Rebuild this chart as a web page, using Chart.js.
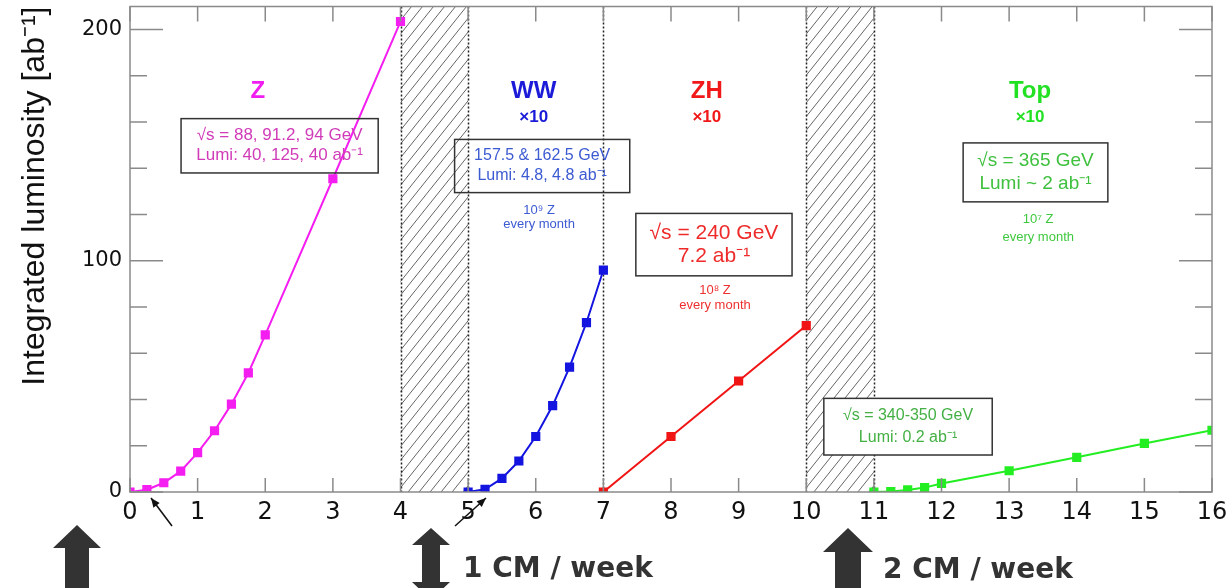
<!DOCTYPE html>
<html>
<head>
<meta charset="utf-8">
<script src="https://cdn.jsdelivr.net/npm/chart.js@4.4.1/dist/chart.umd.min.js"></script>
<style>
  html, body { margin: 0; padding: 0; background: #fff; }
  canvas { display: block; }
</style>
</head>
<body>
<canvas id="lumiChart" width="1229" height="588"></canvas>
<script>
// ── data (x = years, y = integrated luminosity in ab^-1)
const zYears   = [0, 0.25, 0.5, 0.75, 1, 1.25, 1.5, 1.75, 2, 3, 4];
const zLumi    = [0, 1, 4, 9, 17, 26.5, 38, 51.5, 68, 135.5, 203.5];
const wwYears  = [5, 5.25, 5.5, 5.75, 6, 6.25, 6.5, 6.75, 7];
const wwLumi   = [0, 1.2, 5.9, 13.4, 24, 37.4, 54, 73.3, 96];
const zhYears  = [7, 8, 9, 10];
const zhLumi   = [0, 24, 48, 72];
const topYears = [11, 11.25, 11.5, 11.75, 12, 13, 14, 15, 16];
const topLumi  = [0, 0.2, 0.9, 1.9, 3.7, 9.2, 15, 21, 26.7];

const xTicks = [0, 1, 2, 3, 4, 5, 6, 7, 8, 9, 10, 11, 12, 13, 14, 15, 16];
const yTicks = [0, 100, 200];
const yMinorStep = 20;
const shutdowns = [[4, 5], [10, 11]];       // hatched periods
const phaseEdges = [4, 5, 7, 10, 11];       // dotted separators

const toPts = (xs, ys) => xs.map((x, i) => ({ x: x, y: ys[i] }));

function series(label, xs, ys, color) {
  return {
    label: label,
    data: toPts(xs, ys),
    borderColor: color,
    backgroundColor: color,
    borderWidth: 2,
    pointStyle: 'rect',
    pointRadius: 6.5,
    pointBorderWidth: 0,
    tension: 0
  };
}

// text annotations, placed in data coordinates
const notes = [
  { x: 1.89, y: 173.5, lines: ['Z'], color: '#f01ef0', font: 'bold 24px "Liberation Sans"' },
  { x: 5.97, y: 173.5, lines: ['WW'], color: '#1a1ad8', font: 'bold 24px "Liberation Sans"' },
  { x: 5.97, y: 162, lines: ['\u00d710'], color: '#1a1ad8', font: 'bold 17px "Liberation Sans"' },
  { x: 8.53, y: 173.5, lines: ['ZH'], color: '#f01818', font: 'bold 24px "Liberation Sans"' },
  { x: 8.53, y: 162, lines: ['\u00d710'], color: '#f01818', font: 'bold 17px "Liberation Sans"' },
  { x: 13.31, y: 173.5, lines: ['Top'], color: '#22e022', font: 'bold 24px "Liberation Sans"' },
  { x: 13.31, y: 162, lines: ['\u00d710'], color: '#22e022', font: 'bold 17px "Liberation Sans"' },
  { x: 6.05, y: 122, lines: ['10\u2079 Z', 'every month'], color: '#3c5ad2', font: '13px "Liberation Sans"', gap: 14 },
  { x: 8.65, y: 87, lines: ['10\u2078 Z', 'every month'], color: '#ee3030', font: '13px "Liberation Sans"', gap: 15 },
  { x: 13.43, y: 118, lines: ['10\u2077 Z', 'every month'], color: '#3fc83f', font: '13px "Liberation Sans"', gap: 18 }
];

const boxes = [
  { x0: 0.755, x1: 3.67, y0: 161.5, y1: 138, lines: ['\u221as = 88, 91.2, 94 GeV', 'Lumi: 40, 125, 40 ab\u207b\u00b9'],
    color: '#d03cb8', font: '17px "Liberation Sans"', gap: 20 },
  { x0: 4.80, x1: 7.39, y0: 152.5, y1: 129.5, lines: ['157.5 & 162.5 GeV', 'Lumi: 4.8, 4.8 ab\u207b\u00b9'],
    color: '#3c5ad2', font: '16px "Liberation Sans"', gap: 20 },
  { x0: 7.48, x1: 9.79, y0: 120.5, y1: 93.5, lines: ['\u221as = 240 GeV', '7.2 ab\u207b\u00b9'],
    color: '#ee2a2a', font: '21px "Liberation Sans"', gap: 23 },
  { x0: 12.32, x1: 14.46, y0: 151, y1: 125.5, lines: ['\u221as = 365 GeV', 'Lumi ~ 2 ab\u207b\u00b9'],
    color: '#3fc03f', font: '19px "Liberation Sans"', gap: 23 },
  { x0: 10.26, x1: 12.75, y0: 40.5, y1: 16, lines: ['\u221as = 340-350 GeV', 'Lumi: 0.2 ab\u207b\u00b9'],
    color: '#44b044', font: '16px "Liberation Sans"', gap: 22, fill: '#fff' }
];

function arrowUp(ctx, cx, tipY, headHalf, headH, shaftHalf, endY, downTipY) {
  ctx.beginPath();
  ctx.moveTo(cx, tipY);
  ctx.lineTo(cx + headHalf, tipY + headH);
  ctx.lineTo(cx + shaftHalf, tipY + headH);
  if (downTipY) {
    ctx.lineTo(cx + shaftHalf, endY);
    ctx.lineTo(cx + headHalf, endY);
    ctx.lineTo(cx, downTipY);
    ctx.lineTo(cx - headHalf, endY);
  } else {
    ctx.lineTo(cx + shaftHalf, endY);
  }
  ctx.lineTo(cx - shaftHalf, endY);
  ctx.lineTo(cx - shaftHalf, tipY + headH);
  ctx.lineTo(cx - headHalf, tipY + headH);
  ctx.closePath();
  ctx.fill();
}

function pointer(ctx, x0, y0, x1, y1) {
  const a = Math.atan2(y1 - y0, x1 - x0);
  ctx.beginPath();
  ctx.moveTo(x0, y0);
  ctx.lineTo(x1, y1);
  ctx.stroke();
  ctx.beginPath();
  ctx.moveTo(x1, y1);
  ctx.lineTo(x1 - 10 * Math.cos(a - 0.4), y1 - 10 * Math.sin(a - 0.4));
  ctx.lineTo(x1 - 10 * Math.cos(a + 0.4), y1 - 10 * Math.sin(a + 0.4));
  ctx.closePath();
  ctx.fill();
}

const decor = {
  id: 'decor',
  beforeDatasetsDraw(chart) {
    const { ctx, chartArea: a, scales: { x } } = chart;
    ctx.save();
    // hatched shutdown periods
    shutdowns.forEach(([s, e]) => {
      const l = x.getPixelForValue(s), r = x.getPixelForValue(e);
      const h = a.bottom - a.top, run = h / 1.25;
      ctx.save();
      ctx.beginPath();
      ctx.rect(l, a.top, r - l, h);
      ctx.clip();
      ctx.strokeStyle = '#666';
      ctx.lineWidth = 1;
      for (let px = l - run; px < r; px += 11) {
        ctx.beginPath();
        ctx.moveTo(px, a.bottom);
        ctx.lineTo(px + run, a.top);
        ctx.stroke();
      }
      ctx.restore();
    });
    // dotted phase separators
    ctx.strokeStyle = '#222';
    ctx.lineWidth = 1.5;
    ctx.setLineDash([2, 2]);
    phaseEdges.forEach(v => {
      const px = Math.round(x.getPixelForValue(v)) + 0.5;
      ctx.beginPath();
      ctx.moveTo(px, a.top);
      ctx.lineTo(px, a.bottom);
      ctx.stroke();
    });
    ctx.restore();
  },
  afterDatasetsDraw(chart) {
    const { ctx, chartArea: a, scales: { x, y } } = chart;
    ctx.save();
    // frame and inward ticks
    ctx.strokeStyle = '#8a8a8a';
    ctx.lineWidth = 1.5;
    ctx.strokeRect(a.left, a.top, a.right - a.left, a.bottom - a.top);
    ctx.beginPath();
    xTicks.forEach(v => {
      const px = x.getPixelForValue(v);
      ctx.moveTo(px, a.bottom); ctx.lineTo(px, a.bottom - 14);
      ctx.moveTo(px, a.top); ctx.lineTo(px, a.top + 15);
    });
    for (let v = 0; v <= y.max; v += yMinorStep) {
      const py = y.getPixelForValue(v);
      const len = yTicks.includes(v) ? 33 : 17;
      ctx.moveTo(a.left, py); ctx.lineTo(a.left + len, py);
      ctx.moveTo(a.right, py); ctx.lineTo(a.right - len, py);
    }
    ctx.stroke();

    // annotation boxes
    ctx.textAlign = 'center';
    ctx.textBaseline = 'middle';
    boxes.forEach(b => {
      const l = x.getPixelForValue(b.x0), r = x.getPixelForValue(b.x1);
      const t = y.getPixelForValue(b.y0), bt = y.getPixelForValue(b.y1);
      if (b.fill) { ctx.fillStyle = b.fill; ctx.fillRect(l, t, r - l, bt - t); }
      ctx.strokeStyle = '#333';
      ctx.lineWidth = 1.5;
      ctx.strokeRect(l, t, r - l, bt - t);
      ctx.fillStyle = b.color;
      ctx.font = b.font;
      const cy = (t + bt) / 2, cx = (l + r) / 2;
      b.lines.forEach((s, i) => ctx.fillText(s, cx, cy + (i - (b.lines.length - 1) / 2) * b.gap));
    });
    notes.forEach(n => {
      ctx.fillStyle = n.color;
      ctx.font = n.font;
      const cx = x.getPixelForValue(n.x), cy = y.getPixelForValue(n.y);
      n.lines.forEach((s, i) => ctx.fillText(s, cx, cy + i * (n.gap || 0)));
    });
    ctx.restore();
  },
  afterDraw(chart) {
    const ctx = chart.ctx;
    ctx.save();
    // small pointers to the first points of Z and WW
    ctx.strokeStyle = '#111';
    ctx.fillStyle = '#111';
    ctx.lineWidth = 1.5;
    pointer(ctx, 172, 526, 151, 498);
    pointer(ctx, 455, 526, 486, 498);
    // big arrows under the axis
    ctx.fillStyle = '#333';
    arrowUp(ctx, 77, 525, 24, 23, 12, 600);
    arrowUp(ctx, 431, 528, 19, 17, 9, 582, 600);
    arrowUp(ctx, 848, 528, 25, 24, 13, 600);
    ctx.font = 'bold 28px "DejaVu Sans"';
    ctx.textAlign = 'left';
    ctx.textBaseline = 'alphabetic';
    ctx.fillText('1 CM / week', 463, 577);
    ctx.fillText('2 CM / week', 883, 578);
    ctx.restore();
  }
};

const ctx = document.getElementById('lumiChart').getContext('2d');
new Chart(ctx, {
  type: 'line',
  data: {
    datasets: [
      series('Z', zYears, zLumi, '#f51ef0'),
      series('WW', wwYears, wwLumi, '#1414e0'),
      series('ZH', zhYears, zhLumi, '#f01414'),
      series('Top', topYears, topLumi, '#22ee22')
    ]
  },
  options: {
    responsive: false,
    animation: false,
    layout: { padding: { top: 5, right: 17, left: 0, bottom: 0 } },
    plugins: { legend: { display: false }, tooltip: { enabled: false } },
    scales: {
      x: {
        type: 'linear',
        min: 0,
        max: 16,
        afterBuildTicks: s => { s.ticks = xTicks.map(v => ({ value: v })); },
        afterFit: s => { s.height = 96; s.paddingLeft = 0; s.paddingRight = 0; },
        grid: { display: false, drawTicks: false },
        border: { display: false },
        ticks: { color: '#111', padding: 6, maxRotation: 0, autoSkip: false,
                 font: { size: 24, family: 'DejaVu Sans' } }
      },
      y: {
        min: 0,
        max: 210,
        afterBuildTicks: s => { s.ticks = yTicks.map(v => ({ value: v })); },
        afterFit: s => { s.width = 130; s.paddingTop = 0; s.paddingBottom = 0; },
        grid: { display: false, drawTicks: false },
        border: { display: false },
        ticks: { color: '#111', padding: 8, font: { size: 21, family: 'DejaVu Sans' } },
        title: {
          display: true,
          text: 'Integrated luminosity [ab\u207b\u00b9]',
          align: 'end',
          color: '#111',
          padding: { top: 16 },
          font: { size: 32, family: 'Liberation Sans' }
        }
      }
    }
  },
  plugins: [decor]
});
</script>
</body>
</html>
